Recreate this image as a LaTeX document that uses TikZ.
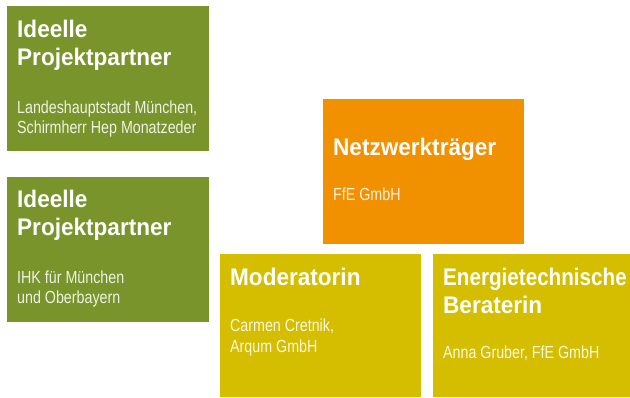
\documentclass[tikz,border=0pt]{standalone}
\usepackage{fontspec}
\newfontfamily\ttlfont{Liberation Sans Bold}[FakeStretch=0.94]
\newfontfamily\ttlfontn{Liberation Sans Bold}[FakeStretch=0.86]
\newfontfamily\bdyfont{Liberation Sans}[FakeStretch=0.815]
\definecolor{pgreen}{RGB}{120,148,42}
\definecolor{porange}{RGB}{242,145,0}
\definecolor{pyellow}{RGB}{213,190,0}
\begin{document}
\begin{tikzpicture}[x=1pt,y=-1pt,
  ttl/.style={anchor=base west, inner sep=0pt, text=white, font=\ttlfont\fontsize{24}{28}\selectfont},
  ttln/.style={ttl, font=\ttlfontn\fontsize{24}{28}\selectfont},
  bdy/.style={anchor=base west, inner sep=0pt, text=white, text opacity=0.88, font=\bdyfont\fontsize{17.5}{20}\selectfont}]
\useasboundingbox (0,0) rectangle (630,397);
% boxes
\fill[pgreen] (7,6) rectangle (209,151);
\fill[pgreen] (7,177) rectangle (209,322);
\fill[porange] (323,99) rectangle (524,244);
\fill[pyellow] (220,254) rectangle (421,397);
\fill[pyellow] (433,254) rectangle (630,397);
% green 1
\node[ttl] (g1t1) at (17,37) {Ideelle};
\node[ttl] (g1t2) at (17,65) {Projektpartner};
\node[bdy] (g1b1) at (17,113) {Landeshauptstadt München,};
\node[bdy] (g1b2) at (17,133) {Schirmherr Hep Monatzeder};
% green 2
\node[ttl] (g2t1) at (17,207) {Ideelle};
\node[ttl] (g2t2) at (17,235) {Projektpartner};
\node[bdy] (g2b1) at (17,283) {IHK für München};
\node[bdy] (g2b2) at (17,303) {und Oberbayern};
% orange
\node[ttl] (ot1) at (333,155) {Netzwerkträger};
\node[bdy] (ob1) at (333,200) {FfE GmbH};
% yellow 1
\node[ttl] (y1t1) at (230,285) {Moderatorin};
\node[bdy] (y1b1) at (230,331) {Carmen Cretnik,};
\node[bdy] (y1b2) at (230,352) {Arqum GmbH};
% yellow 2
\node[ttln] (y2t1) at (443,285) {Energietechnische};
\node[ttl] (y2t2) at (443,313) {Beraterin};
\node[bdy] (y2b1) at (443,358) {Anna Gruber, FfE GmbH};
\end{tikzpicture}
\end{document}
